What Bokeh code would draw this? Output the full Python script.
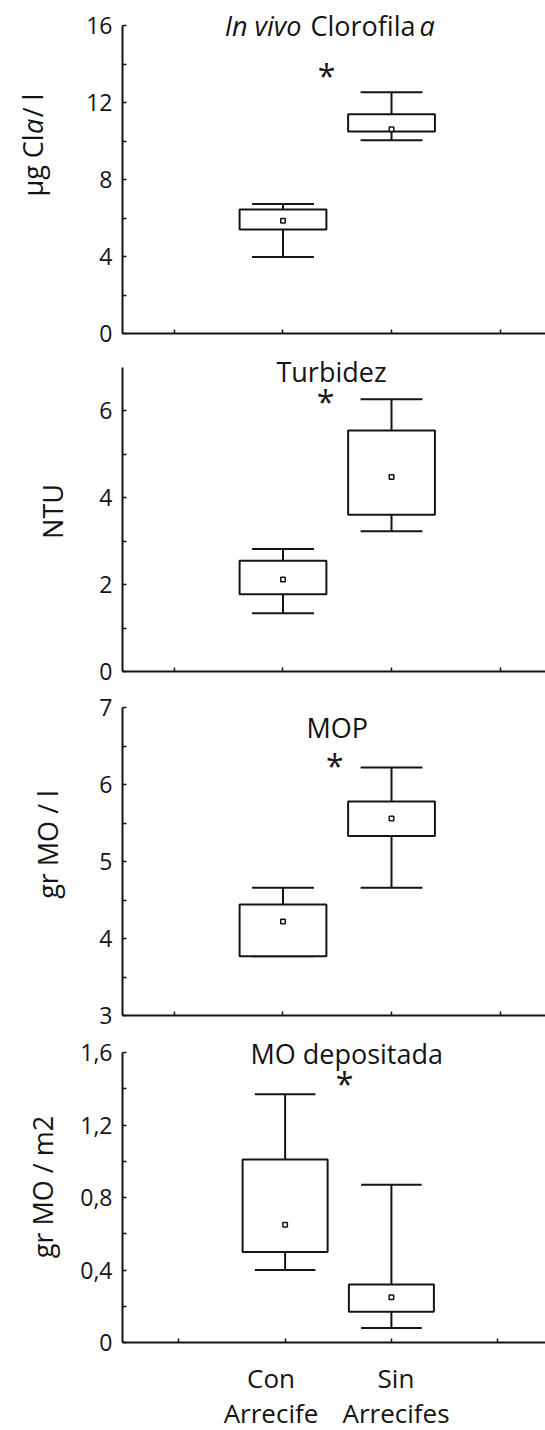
from math import pi

from bokeh.embed import file_html
from bokeh.layouts import column, row
from bokeh.models import CustomJSTickFormatter, FixedTicker, Label, Range1d
from bokeh.plotting import figure
from bokeh.resources import INLINE

# ---------------------------------------------------------------- data
group_line1 = ["Con", "Sin"]
group_line2 = ["Arrecife", "Arrecifes"]
x_ticks = [0, 1, 2, 3]

# In vivo Clorofila a (µg Cla / l)
chl_min = [3.97, 10.04]
chl_q1 = [5.40, 10.49]
chl_mean = [5.86, 10.61]
chl_q3 = [6.44, 11.39]
chl_max = [6.73, 12.53]
chl_ticks = [0, 4, 8, 12, 16]
chl_minor = [2, 6, 10, 14]

# Turbidez (NTU)
tur_min = [1.34, 3.23]
tur_q1 = [1.78, 3.61]
tur_mean = [2.12, 4.48]
tur_q3 = [2.55, 5.55]
tur_max = [2.82, 6.27]
tur_ticks = [0, 2, 4, 6]
tur_minor = [1, 3, 5]

# MOP (gr MO / l)
mop_min = [3.77, 4.66]
mop_q1 = [3.77, 5.33]
mop_mean = [4.22, 5.56]
mop_q3 = [4.44, 5.78]
mop_max = [4.66, 6.22]
mop_ticks = [3, 4, 5, 6, 7]
mop_minor = [3.5, 4.5, 5.5, 6.5]

# MO depositada (gr MO / m2)
dep_min = [0.40, 0.08]
dep_q1 = [0.50, 0.17]
dep_mean = [0.65, 0.25]
dep_q3 = [1.01, 0.32]
dep_max = [1.37, 0.87]
dep_ticks = [0, 0.4, 0.8, 1.2, 1.6]
dep_minor = [0.2, 0.6, 1.0, 1.4]

# ---------------------------------------------------------------- style
FONT = "Open Sans"
INK = "#141414"
PAGE_W, PAGE_H = 545, 1430
STRIP_W = 72            # left strip holding the rotated axis titles
FRAME_LEFT = 122        # page x of every panel's y axis (frames are aligned in a column)
TITLE_PX = 27
LABEL_PX = 27
GROUP_PX = 26
TICK_PX = 23
STAR_PX = 32


def add_text(p, x, y, s, size, align="center", style="normal", angle=0.0):
    p.add_layout(Label(x=x, y=y, text=s, angle=angle,
                       text_font=FONT, text_font_size=f"{size}px", text_font_style=style,
                       text_align=align, text_baseline="alphabetic", text_color=INK))


def page_figure(width, height, x0, x1, y_top, y_bottom, left=0):
    """Axis-free figure whose data coordinates are page pixels."""
    f = figure(width=width, height=height, x_range=Range1d(x0, x1),
               y_range=Range1d(y_bottom, y_top), output_backend="svg",
               toolbar_location=None, tools="", title=None,
               x_axis_location=None, y_axis_location=None, min_border=0,
               min_border_left=left)
    f.outline_line_color = None
    f.xgrid.visible = False
    f.ygrid.visible = False
    f.background_fill_color = "white"
    f.border_fill_color = "white"
    return f


class Panel:
    """One stacked panel; the frame reaches the figure top so titles stay inside."""

    def __init__(self, fig_top, height, top, axis_h, xr, yr, ticks, minor, fmt=None):
        self.fig_top, self.top, self.axis_h = fig_top, top, axis_h
        self.xr, self.yr = xr, yr
        y0, y1 = yr
        y_top = y1 + top / axis_h * (y1 - y0)
        p = figure(width=PAGE_W - STRIP_W, height=height,
                   x_range=Range1d(*xr), y_range=Range1d(y0, y_top),
                   output_backend="svg", toolbar_location=None, tools="", title=None,
                   min_border_left=FRAME_LEFT - STRIP_W, min_border_right=0, min_border_top=0,
                   min_border_bottom=height - top - axis_h)
        p.outline_line_color = None
        p.xgrid.visible = False
        p.ygrid.visible = False
        p.background_fill_color = "white"
        p.border_fill_color = "white"

        ya = p.yaxis[0]
        ya.bounds = (y0, y1)
        ya.ticker = FixedTicker(ticks=ticks, minor_ticks=minor)
        ya.axis_line_width = 2
        ya.axis_line_color = INK
        ya.major_tick_in, ya.major_tick_out = 4, 0
        ya.minor_tick_in, ya.minor_tick_out = 4, 0
        ya.major_tick_line_width = 1.5
        ya.minor_tick_line_width = 1.5
        ya.major_tick_line_color = INK
        ya.minor_tick_line_color = INK
        ya.major_label_text_font = FONT
        ya.major_label_text_font_size = f"{TICK_PX}px"
        ya.major_label_text_color = INK
        ya.major_label_standoff = 10
        if fmt is not None:
            ya.formatter = fmt

        xa = p.xaxis[0]
        xa.ticker = FixedTicker(ticks=x_ticks, minor_ticks=[])
        xa.axis_line_width = 2
        xa.axis_line_color = INK
        xa.major_tick_in, xa.major_tick_out = 4, 0
        xa.major_tick_line_width = 1.5
        xa.major_tick_line_color = INK
        xa.major_label_text_font_size = "1px"
        xa.major_label_text_color = None
        xa.major_label_standoff = 0
        self.p = p

    # page pixel -> data coordinate
    def px2x(self, px):
        x0, x1 = self.xr
        return x0 + (px - FRAME_LEFT) / (PAGE_W - FRAME_LEFT) * (x1 - x0)

    def py2y(self, py):
        y0, y1 = self.yr
        return y1 - (py - self.fig_top - self.top) / self.axis_h * (y1 - y0)

    def text(self, px, py, s, size, align="center", style="normal"):
        add_text(self.p, self.px2x(px), self.py2y(py), s, size, align, style)

    def star(self, cx, cy):
        self.text(cx, cy, "*", STAR_PX)

    def boxes(self, lo, q1, mean, q3, hi):
        p = self.p
        xs = [i + 1 for i in range(len(group_line1))]
        half, cap = 0.4, 0.285
        kw = dict(line_color=INK, line_width=2)
        p.segment(x0=xs, y0=q3, x1=xs, y1=hi, **kw)
        p.segment(x0=xs, y0=lo, x1=xs, y1=q1, **kw)
        p.segment(x0=[x - cap for x in xs], y0=hi, x1=[x + cap for x in xs], y1=hi, **kw)
        p.segment(x0=[x - cap for x in xs], y0=lo, x1=[x + cap for x in xs], y1=lo, **kw)
        p.quad(left=[x - half for x in xs], right=[x + half for x in xs],
               bottom=q1, top=q3, fill_color="white", **kw)
        p.scatter(xs, mean, marker="square", size=4.5, fill_color="white",
                  line_color=INK, line_width=1.5)


comma = CustomJSTickFormatter(code="return tick == 0 ? '0' : tick.toFixed(1).replace('.', ',');")

XR_TOP = (-0.479, 3.419)     # panels 1-3
XR_BOTTOM = (-0.530, 3.450)  # panel 4

# ---------------------------------------------------------------- panels
p1 = Panel(0, 350, 25, 308, XR_TOP, (0, 16), chl_ticks, chl_minor)
p1.boxes(chl_min, chl_q1, chl_mean, chl_q3, chl_max)
p1.text(301, 25, "In vivo", TITLE_PX, align="right", style="italic")
p1.text(362.5, 25, "Clorofila", TITLE_PX)
p1.text(419, 25, "a", TITLE_PX, align="left", style="italic")
p1.star(326, 74.5)

p2 = Panel(350, 340, 17, 304, XR_TOP, (0, 7), tur_ticks, tur_minor)
p2.boxes(tur_min, tur_q1, tur_mean, tur_q3, tur_max)
p2.text(331, 370.5, "Turbidez", TITLE_PX)
p2.star(325, 401)

p3 = Panel(690, 342, 17, 308, XR_TOP, (3, 7), mop_ticks, mop_minor)
p3.boxes(mop_min, mop_q1, mop_mean, mop_q3, mop_max)
p3.text(336.8, 726.5, "MOP", TITLE_PX)
p3.star(334.4, 765)

p4 = Panel(1032, 326, 20, 290, XR_BOTTOM, (0, 1.6), dep_ticks, dep_minor, comma)
p4.boxes(dep_min, dep_q1, dep_mean, dep_q3, dep_max)
p4.text(346.2, 1053, "MO depositada", TITLE_PX)
p4.star(344, 1083)

# ---------------------------------------------------------------- axis titles (left strip)
strip = page_figure(STRIP_W, PAGE_H, 0, STRIP_W, 0, PAGE_H)
add_text(strip, 31.5, 196, "µg Cl", LABEL_PX, align="left", angle=pi / 2)
add_text(strip, 31.5, 133.4, "a", LABEL_PX, align="left", style="italic", angle=pi / 2)
add_text(strip, 31.5, 116.8, " / l", LABEL_PX, align="left", angle=pi / 2)
add_text(strip, 52, 511, "NTU", LABEL_PX, angle=pi / 2)
add_text(strip, 47, 844, "gr MO / l", LABEL_PX, angle=pi / 2)
add_text(strip, 41.7, 1186.5, "gr MO / m2", LABEL_PX, angle=pi / 2)

# ---------------------------------------------------------------- group names (bottom band)
cap_top = 1358
caption = page_figure(PAGE_W - STRIP_W, PAGE_H - cap_top, FRAME_LEFT, PAGE_W, cap_top, PAGE_H,
                      left=FRAME_LEFT - STRIP_W)
for cx, line1, line2 in zip([270.5, 395.5], group_line1, group_line2):
    add_text(caption, cx, 1377, line1, GROUP_PX)
    add_text(caption, cx, 1412, line2, GROUP_PX)

layout = row(strip, column(p1.p, p2.p, p3.p, p4.p, caption, spacing=0), spacing=0)
open("out.html", "w").write(file_html(layout, INLINE))
